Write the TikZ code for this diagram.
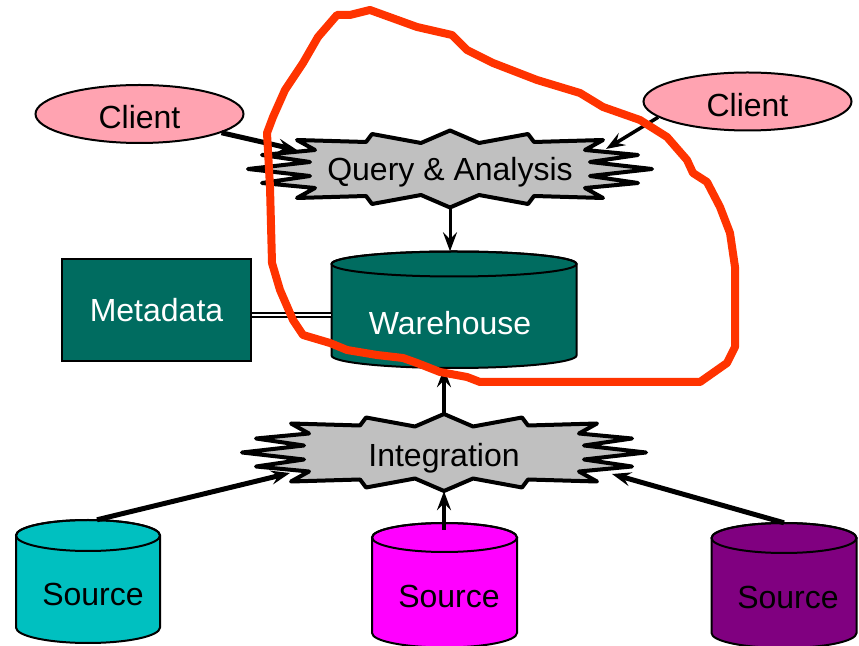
\documentclass[tikz,border=0pt]{standalone}
\usepackage{fontspec}
\setmainfont{Liberation Sans}
\usetikzlibrary{shapes.geometric,arrows.meta,calc}
\definecolor{clientpink}{RGB}{255,163,177}
\definecolor{burstgrey}{RGB}{192,192,192}
\definecolor{whteal}{RGB}{0,108,96}
\definecolor{srccyan}{RGB}{0,192,192}
\definecolor{srcmag}{RGB}{255,0,255}
\definecolor{srcpurple}{RGB}{128,0,128}
\definecolor{loopred}{RGB}{255,51,0}
% #1 cx, #2 y of top ellipse centre, #3 y of bottom ellipse centre, #4 rx, #5 ry, #6 fill
\newcommand\dbcyl[6]{%
  \filldraw[cylline, fill=#6] (#1-#4,#2) -- (#1-#4,#3)
    arc[start angle=180, end angle=360, x radius=#4, y radius=#5]
    -- (#1+#4,#2)
    arc[start angle=0, end angle=180, x radius=#4, y radius=#5] -- cycle;
  \draw[cylline] (#1,#2) ellipse[x radius=#4, y radius=#5];
}
\tikzset{
  lbl/.style={font=\fontsize{32}{38}\selectfont, inner sep=0pt},
  clientst/.style={ellipse, draw, line width=2pt, fill=clientpink,
    minimum width=208pt, minimum height=58pt, lbl, text height=30pt, text depth=0pt},
  burstnode/.style={rectangle, minimum width=406pt, minimum height=77pt, lbl,
    text height=24pt, text depth=0pt},
  cylbox/.style={rectangle, inner sep=0pt},
  cylline/.style={line width=2pt, black},
  metast/.style={rectangle, draw, line width=2pt, fill=whteal, text=white,
    minimum width=189pt, minimum height=102pt, lbl},
  arrowst/.style={-{Stealth[length=19pt, width=14pt, inset=7pt]}, black},
  burstline/.style={line width=4pt, line join=round, fill=burstgrey, draw=black},
  burst/.pic={
    \filldraw[burstline] (0,38.5) -- (29,26) -- (78,35) -- (84,27) -- (153,29)
      -- (135,19) -- (188,14) -- (140,7) -- (202,0) -- (140,-7) -- (188,-14)
      -- (135,-19) -- (153,-29) -- (84,-27) -- (78,-35) -- (29,-26)
      -- (0,-38.5) -- (-29,-26) -- (-78,-35) -- (-84,-27) -- (-153,-29)
      -- (-135,-19) -- (-188,-14) -- (-140,-7) -- (-202,0) -- (-140,7)
      -- (-188,14) -- (-135,19) -- (-153,29) -- (-84,27) -- (-78,35)
      -- (-29,26) -- cycle;
  }
}
\begin{document}
\begin{tikzpicture}[x=1pt,y=1pt]
\useasboundingbox (0,0) rectangle (859,645);

% clients
\node[clientst] (cl) at (139.5,531) {Client};
\node[clientst] (cr) at (747.5,543.5) {Client};

% query & analysis
\pic at (450,476) {burst};
\node[burstnode] (qa) at (450,476) {Query \& Analysis};
\coordinate (qa-l) at ($(qa.center)+(-153,19)$);
\coordinate (qa-r) at ($(qa.center)+(156,20)$);

% metadata
\node[metast] (md) at (156.5,335) {Metadata};

% warehouse
\dbcyl{454}{381}{289.5}{122.5}{12.5}{whteal}
\node[cylbox, minimum width=245pt, minimum height=116.5pt] (wh) at (454,335.25) {};
\node[lbl, text=white] (whl) at (450,322) {Warehouse};

% integration
\pic at (444,192.5) {burst};
\node[burstnode, text height=28pt] (ig) at (444,192.5) {Integration};
\coordinate (ig-l) at ($(ig.center)+(-154,-20.5)$);
\coordinate (ig-r) at ($(ig.center)+(168,-21.5)$);

% sources
\dbcyl{88}{109.5}{17.5}{72}{15.5}{srccyan}
\node[cylbox, minimum width=144pt, minimum height=123pt] (sl) at (88,63.5) {};
\node[lbl] (sll) at (93,51) {Source};

\dbcyl{444.5}{107.5}{12}{72.5}{14.5}{srcmag}
\node[cylbox, minimum width=145pt, minimum height=124pt] (sm) at (444.5,60) {};
\node[lbl] (sml) at (449,49) {Source};

\dbcyl{784}{107}{12}{72.5}{15}{srcpurple}
\node[cylbox, minimum width=145pt, minimum height=125pt] (sr) at (784,59.5) {};
\node[lbl] (srl) at (788,48) {Source};

% connectors
\draw[arrowst, line width=5pt] (cl) -- (qa-l);
\draw[arrowst, line width=3.5pt] (cr.190) -- (qa-r);
\draw[arrowst, line width=3pt] (qa.south) -- (qa.south |- wh.north);
\draw[double, double distance=2.5pt, line width=1.5pt]
  ($(md.east)+(0,-5)$) -- ($(md.east -| wh.west)+(0,-5)$);
\draw[arrowst, line width=4.5pt] (ig.north) -- (ig.north |- wh.south);
\draw[arrowst, line width=4.5pt] ([yshift=-7pt]sm.north -| ig.south) -- (ig.south);
\draw[arrowst, line width=5pt] ([xshift=9pt]sl.north) -- (ig-l);
\draw[arrowst, line width=5pt] (sr.north) -- (ig-r);

% hand-drawn red loop
\draw[loopred, line width=8pt, line join=round, line cap=round]
  (267,512) -- (273,528) -- (285,555) -- (303,582) -- (318,608) -- (337,630)
  -- (350,630) -- (370,635) -- (417,618) -- (452,610) -- (467,595) -- (493,582)
  -- (537,565) -- (580,552) -- (603,538) -- (640,525) -- (667,508) -- (687,485)
  -- (693,472) -- (707,463) -- (720,438) -- (730,412) -- (735,378) -- (735,298)
  -- (727,282) -- (700,263) -- (480,263) -- (467,268) -- (440,273) -- (417,282)
  -- (403,287) -- (377,290) -- (347,295) -- (330,302) -- (303,310) -- (293,325)
  -- (280,355) -- (272,382) -- (270,458) -- cycle;
\end{tikzpicture}
\end{document}
